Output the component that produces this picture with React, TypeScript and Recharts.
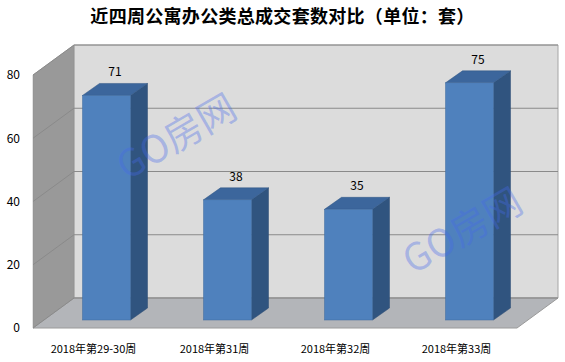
import React from "react";
import {
  BarChart,
  Bar,
  XAxis,
  YAxis,
  CartesianGrid,
  ReferenceArea,
  LabelList,
} from "recharts";

const weeks = ["2018年第29-30周", "2018年第31周", "2018年第32周", "2018年第33周"];
const deals = [71, 38, 35, 75];
const yTicks = [0, 20, 40, 60, 80];

const data = weeks.map((week, i) => ({ week, deals: deals[i] }));

// 3D geometry (pixels)
const WALL_DX = 41;
const WALL_DY = -30;
const BAR_SHIFT_X = 12.5;
const BAR_SHIFT_Y = -8;
const BAR_DX = 17;
const BAR_DY = -12;

const FONT = '"Noto Sans CJK SC", "Noto Sans", sans-serif';

const pts = (arr: number[][]) => arr.map((p) => p.join(",")).join(" ");

const Walls = (props: any) => {
  const { x, y, width, height } = props;
  const bottom = y + height;
  const right = x + width;
  return (
    <g>
      {/* back wall */}
      <polygon
        points={pts([
          [x + WALL_DX, y + WALL_DY],
          [right + WALL_DX, y + WALL_DY],
          [right + WALL_DX, bottom + WALL_DY],
          [x + WALL_DX, bottom + WALL_DY],
        ])}
        fill="#dcdcdc"
        stroke="#a6a6a6"
        strokeWidth={1}
      />
      {/* left wall */}
      <polygon
        points={pts([
          [x, y],
          [x + WALL_DX, y + WALL_DY],
          [x + WALL_DX, bottom + WALL_DY],
          [x, bottom],
        ])}
        fill="#999999"
        stroke="#8c8c8c"
        strokeWidth={0.5}
      />
      {/* floor */}
      <polygon
        points={pts([
          [x, bottom],
          [x + WALL_DX, bottom + WALL_DY],
          [right + WALL_DX, bottom + WALL_DY],
          [right, bottom],
        ])}
        fill="#b3b5b9"
        stroke="#9a9a9a"
        strokeWidth={1}
      />
    </g>
  );
};

const GridLine = (props: any) => {
  const { x1, y1, x2 } = props;
  return (
    <polyline
      key={props.key ?? `${y1}`}
      points={pts([
        [x1, y1],
        [x1 + WALL_DX, y1 + WALL_DY],
        [x2 + WALL_DX, y1 + WALL_DY],
      ])}
      fill="none"
      stroke="#8a8a8a"
      strokeWidth={1}
    />
  );
};

const Bar3D = (props: any) => {
  const { x, y, width, height } = props;
  if (height == null || width == null) return null;
  const fx = x + BAR_SHIFT_X;
  const fy = y + BAR_SHIFT_Y;
  const fb = y + height + BAR_SHIFT_Y;
  const fr = fx + width;
  return (
    <g>
      <polygon
        points={pts([
          [fr, fy],
          [fr + BAR_DX, fy + BAR_DY],
          [fr + BAR_DX, fb + BAR_DY],
          [fr, fb],
        ])}
        fill="#30547f"
        stroke="#2a4a72"
        strokeWidth={0.5}
      />
      <polygon
        points={pts([
          [fx, fy],
          [fx + BAR_DX, fy + BAR_DY],
          [fr + BAR_DX, fy + BAR_DY],
          [fr, fy],
        ])}
        fill="#3c669c"
        stroke="#2f5582"
        strokeWidth={0.5}
      />
      <rect x={fx} y={fy} width={width} height={height} fill="#4f81bd" stroke="#3f6a9e" strokeWidth={0.5} />
    </g>
  );
};

const ValueLabel = (props: any) => {
  const { x, y, width, value } = props;
  return (
    <text
      x={x + width / 2 + BAR_SHIFT_X + BAR_DX / 2}
      y={y - 27}
      textAnchor="middle"
      fontSize={12}
      fontFamily={FONT}
      fill="#000"
    >
      {value}
    </text>
  );
};

const Watermark = ({ cx, cy }: { cx: number; cy: number }) => (
  <text
    x={cx}
    y={cy}
    textAnchor="middle"
    dominantBaseline="central"
    transform={`rotate(-30 ${cx} ${cy})`}
    fontSize={38}
    fontFamily={FONT}
    fontWeight={400}
    fill="rgba(70,105,235,0.36)"
  >
    GO房网
  </text>
);

export default function App() {
  return (
    <div style={{ width: 565, height: 362, background: "#fff", position: "relative" }}>
      <style>{"body{margin:0}"}</style>
      <div
        style={{
          position: "absolute",
          top: 2,
          left: 0,
          width: 565,
          textAlign: "center",
          fontFamily: FONT,
          fontWeight: "bold",
          fontSize: 18,
          letterSpacing: 0.3,
          color: "#000",
        }}
      >
        近四周公寓办公类总成交套数对比（单位：套）
      </div>
      <BarChart
        width={565}
        height={362}
        data={data}
        margin={{ top: 75, right: 48, left: 0, bottom: 0 }}
        barSize={48}
      >
        <ReferenceArea y1={0} y2={80} shape={<Walls />} zIndex={-200} ifOverflow="visible" />
        <CartesianGrid vertical={false} horizontal={(p: any) => <GridLine {...p} />} />
        <XAxis
          dataKey="week"
          axisLine={false}
          tickLine={false}
          tickSize={0}
          tickMargin={17}
          height={34}
          interval={0}
          tick={{ fontSize: 11, fill: "#000", fontFamily: FONT }}
        />
        <YAxis
          domain={[0, 80]}
          ticks={yTicks}
          axisLine={false}
          tickLine={false}
          tickSize={0}
          tickMargin={13}
          width={33}
          tick={{ fontSize: 12, fill: "#000", fontFamily: FONT }}
        />
        <Bar dataKey="deals" shape={<Bar3D />} isAnimationActive={false}>
          <LabelList dataKey="deals" content={<ValueLabel />} />
        </Bar>
      </BarChart>
      <svg
        width={565}
        height={362}
        style={{ position: "absolute", left: 0, top: 0, pointerEvents: "none" }}
      >
        <Watermark cx={175} cy={134} />
        <Watermark cx={461} cy={228} />
      </svg>
    </div>
  );
}
